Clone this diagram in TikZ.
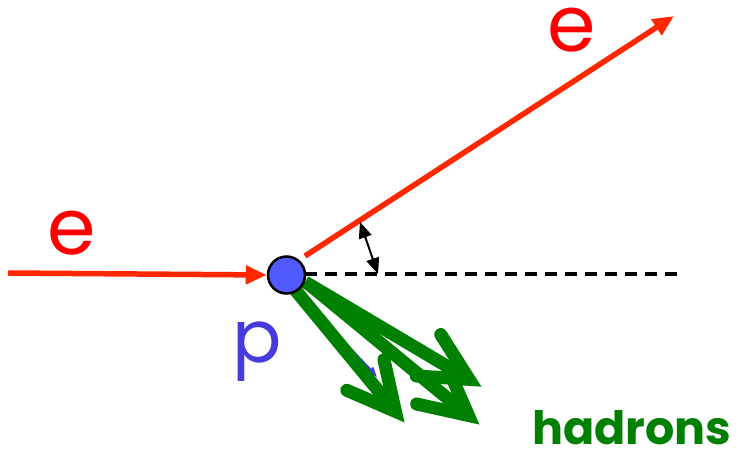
\documentclass[tikz,border=0pt]{standalone}
\usepackage{fontspec}
\setmainfont{Poppins}
\usetikzlibrary{arrows.meta,calc}
\definecolor{eRed}{RGB}{255,0,0}
\definecolor{lineRed}{RGB}{255,40,0}
\definecolor{hadGreen}{RGB}{0,128,0}
\definecolor{pBlue}{RGB}{70,60,220}
\definecolor{ballBlue}{RGB}{80,90,255}
\tikzset{
  electron/.style={draw=lineRed, line width=5.5pt, -{Triangle[length=21pt,width=18pt]}},
  axisline/.style={draw=black, line width=3.2pt, dash pattern=on 12pt off 8pt},
  anglemark/.style={draw=black, line width=2pt, {Triangle[length=16pt,width=13pt]}-{Triangle[length=16pt,width=13pt]}},
  jet/.style={draw=hadGreen, line width=13pt, line cap=round, line join=miter, miter limit=10},
  jetshaft/.style={draw=hadGreen, line width=13pt, line cap=butt},
  quark/.style={draw=pBlue, line width=3pt, -{Triangle[length=10pt,width=8pt]}},
  proton/.style={circle, draw=black, line width=2.5pt, fill=ballBlue, minimum size=37pt, inner sep=0pt},
  biglabel/.style={font=\fontsize{78}{80}\selectfont},
}
\begin{document}
\begin{tikzpicture}[x=1pt,y=-1pt]
\useasboundingbox (0,0) rectangle (744,450);
% coordinates
\coordinate (ein) at (8,273);
\coordinate (eoutS) at (305,256);
\coordinate (eoutE) at (674,16);
\coordinate (axS) at (305,274);
\coordinate (axE) at (684,274);
\coordinate (angA) at (360,222);
\coordinate (angB) at (378,274);
% jets
\coordinate (AS) at (292,286);
\coordinate (AT) at (405,423);
\coordinate (BS) at (310,285);
\coordinate (BT) at (480,425);
\coordinate (CS) at (305,282);
\coordinate (CT) at (482,387);
\coordinate (qS) at (292,288);
\coordinate (qT) at (377,377);
\draw[quark] (qS) -- (qT);
\foreach \s/\t in {A/AT, B/BT, C/CT}{
  \coordinate (\s P) at ($(\t)!15pt!(\s S)$);
  \coordinate (\s L) at ($(\s P)!53pt!27:(\s S)$);
  \coordinate (\s R) at ($(\s P)!53pt!-27:(\s S)$);
  \draw[jetshaft] (\s S) -- (\s P);
  \draw[jet] (\s L) -- (\s P) -- (\s R);
}
% proton
\node[proton] (p) at (286.5,275) {};
% electrons
\draw[electron] (ein) -- (p.west);
\draw[electron] (eoutS) -- (eoutE);
\draw[axisline] (axS) -- (axE);
\draw[anglemark] (angA) -- (angB);
% labels
\node[biglabel, text=eRed, inner sep=0pt] (e1) at (72,233) {e};
\node[biglabel, text=eRed, inner sep=0pt] (e2) at (572,30) {e};
\node[biglabel, text=pBlue, inner sep=0pt, font=\fontsize{73}{75}\selectfont] (plab) at (257,352) {p};
\node[text=hadGreen, inner sep=0pt, anchor=base, text depth=0pt, font=\fontsize{46}{48}\selectfont\bfseries] (had) at (632,444) {hadrons};
\end{tikzpicture}
\end{document}
